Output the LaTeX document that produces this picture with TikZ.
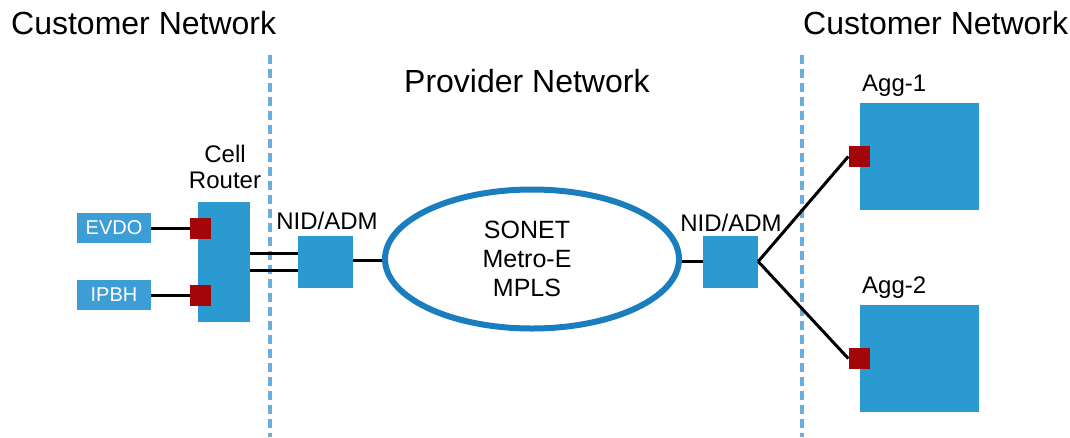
\documentclass[tikz,border=0pt]{standalone}
\usepackage{fontspec}
\setmainfont{Liberation Sans}
\usetikzlibrary{shapes.geometric}
\definecolor{boxblue}{HTML}{2A9AD1}
\definecolor{lightbox}{HTML}{3D9DD6}
\definecolor{portred}{HTML}{A30608}
\definecolor{ringblue}{HTML}{1A7DBD}
\definecolor{zoneline}{HTML}{6AAEDD}
\tikzset{
  device/.style={rectangle, fill=boxblue, draw=none, inner sep=0pt},
  service/.style={rectangle, fill=lightbox, draw=none, inner sep=0pt,
    minimum width=74pt, minimum height=30pt, text=white,
    font=\fontsize{20}{22}\selectfont},
  port/.style={rectangle, fill=portred, draw=none, inner sep=0pt,
    minimum width=21pt, minimum height=21pt},
  wire/.style={line width=3pt, black},
  zone/.style={line width=4pt, zoneline, dash pattern=on 9pt off 5pt},
  title/.style={anchor=base west, inner sep=0pt, font=\fontsize{32}{35}\selectfont},
  label/.style={inner sep=0pt, font=\fontsize{24}{27}\selectfont, align=center}
}
\begin{document}
\begin{tikzpicture}[x=1pt, y=-1pt]
\useasboundingbox (0,0) rectangle (1070,437);

% zone separators
\coordinate (lt) at (270,55);
\coordinate (lb) at (270,437);
\coordinate (rt) at (802,55);
\coordinate (rb) at (802,437);
\draw[zone] (lt) -- (lb);
\draw[zone] (rt) -- (rb);

% zone titles
\node[title] (custl) at (11,34) {Customer Network};
\node[title] (custr) at (803,34) {Customer Network};
\node[title] (prov) at (404,92) {Provider Network};

% cell site
\node[service] (evdo) at (114,228) {EVDO};
\node[service] (ipbh) at (114,295) {IPBH};
\node[device, minimum width=52pt, minimum height=120pt] (cell) at (224,261.5) {};
\node[label, anchor=south] (celltxt) at (225,189) {Cell\\[-1pt]Router};

% provider edge devices
\node[device, minimum width=55pt, minimum height=52pt] (nidl) at (325.5,261.5) {};
\node[label, anchor=base] (nidltxt) at (327,229) {NID/ADM};
\node[device, minimum width=55pt, minimum height=52pt] (nidr) at (730.5,261.5) {};
\node[label, anchor=base] (nidrtxt) at (731,231) {NID/ADM};

% transport cloud
\node[ellipse, draw=ringblue, line width=6pt, minimum width=294pt, minimum height=139pt,
      inner sep=0pt] (core) at (532,259) {};
\node[label, font=\fontsize{25}{29}\selectfont] (coretxt) at (527,259) {SONET\\Metro-E\\MPLS};

% aggregation
\node[device, minimum width=119pt, minimum height=107pt] (agg1) at (919.5,156.5) {};
\node[label, anchor=base west] (agg1txt) at (862,91) {Agg-1};
\node[device, minimum width=119pt, minimum height=107pt] (agg2) at (919.5,358.5) {};
\node[label, anchor=base west] (agg2txt) at (862,293) {Agg-2};

% links
\draw[wire] (evdo.east) -- (190,228) coordinate (evdoend);
\draw[wire] (ipbh.east) -- (190,295) coordinate (ipbhend);
\draw[wire] ([yshift=8.5pt]cell.east) -- ([yshift=8.5pt]nidl.west);
\draw[wire] ([yshift=-8.5pt]cell.east) -- ([yshift=-8.5pt]nidl.west);
\draw[wire] ([yshift=1pt]nidl.east) -- ([yshift=1pt]nidl.east -| core.west);
\draw[wire] (core.east |- nidr.west) -- (nidr.west);

% ports
\node[port] (evdoport) at (200.5,228) {};
\node[port] (ipbhport) at (200.5,295.5) {};
\node[port] (agg1port) at (859,156.5) {};
\node[port] (agg2port) at (859,358.5) {};

\draw[wire] (nidr.east) -- (agg1port.west);
\draw[wire] (nidr.east) -- (agg2port.west);
\end{tikzpicture}
\end{document}
